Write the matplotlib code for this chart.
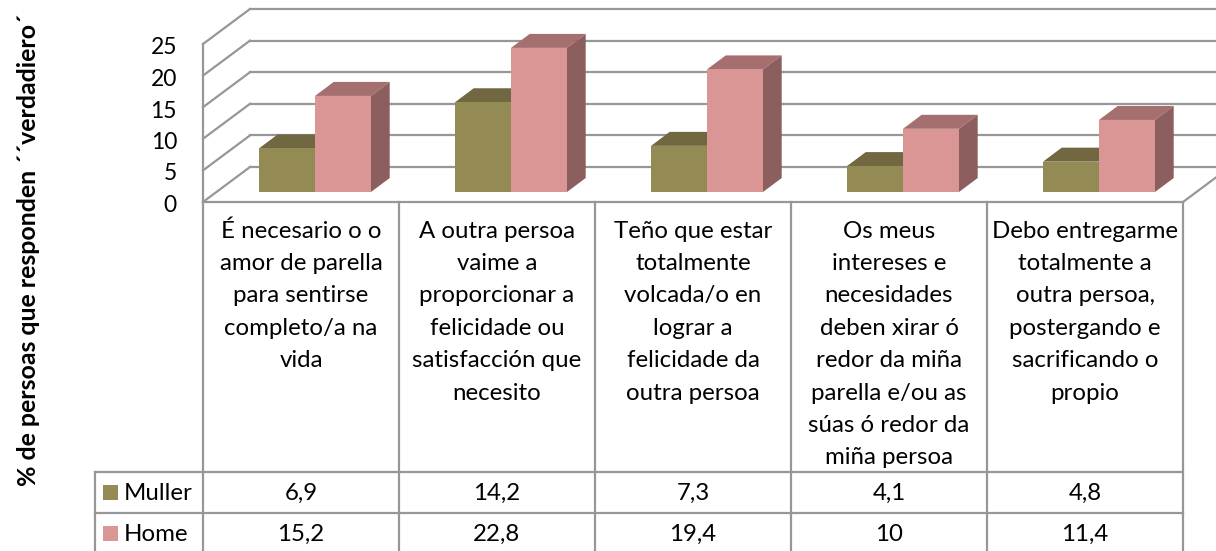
import numpy as np
import matplotlib
matplotlib.use('Agg')
import matplotlib.pyplot as plt
from matplotlib.patches import Polygon, Rectangle

plt.rcParams['font.family'] = ['Lato', 'DejaVu Sans']

# datos
series = ['Muller', 'Home']
muller = [6.9, 14.2, 7.3, 4.1, 4.8]
home = [15.2, 22.8, 19.4, 10, 11.4]
muller_txt = ['6,9', '14,2', '7,3', '4,1', '4,8']
home_txt = ['15,2', '22,8', '19,4', '10', '11,4']
yticks = [0, 5, 10, 15, 20, 25]
ylabel = '% de persoas que responden ´´verdadiero´'
categories = [
    ['É necesario o o', 'amor de parella', 'para sentirse', 'completo/a na', 'vida'],
    ['A outra persoa', 'vaime a', 'proporcionar a', 'felicidade ou', 'satisfacción que', 'necesito'],
    ['Teño que estar', 'totalmente', 'volcada/o en', 'lograr a', 'felicidade da', 'outra persoa'],
    ['Os meus', 'intereses e', 'necesidades', 'deben xirar ó', 'redor da miña', 'parella e/ou as', 'súas ó redor da', 'miña persoa'],
    ['Debo entregarme', 'totalmente a', 'outra persoa,', 'postergando e', 'sacrificando o', 'propio'],
]

W, H = 1216, 551
grid_col = '#979797'
olive = ('#948A54', '#716842', '#655C3B')
pink = ('#D99694', '#A66F6F', '#8C5E5E')
fs = 17.3

fig = plt.figure(figsize=(W / 100, H / 100), dpi=100)

# capa en pixeles para tabla y textos
lay = fig.add_axes([0, 0, 1, 1])
lay.set_xlim(0, W)
lay.set_ylim(H, 0)
lay.axis('off')

# ejes del grafico: x en categorias, y en valores
ax = fig.add_axes([203 / W, (H - 202) / H, 980 / W, 158 / H])
ax.set_xlim(0, 5)
ax.set_ylim(0, 25)
ax.axis('off')
ax.patch.set_alpha(0)

wall_dx, wall_dy = 47 / 196, 35 / 6.32
bar_dx, bar_dy = 18.7 / 196, 14 / 6.32
base_dy = 10 / 6.32
bar_w = 56 / 196
lw = 1.6

# paredes y lineas de division
for v in yticks:
    ax.plot([0, wall_dx], [v, v + wall_dy], color=grid_col, lw=lw, clip_on=False)
    ax.plot([wall_dx, 5.3], [v + wall_dy, v + wall_dy], color=grid_col, lw=lw, clip_on=False)
ax.plot([0, 0], [0, 25], color=grid_col, lw=lw, clip_on=False)
ax.plot([5, 5 + wall_dx], [0, wall_dy], color=grid_col, lw=lw, clip_on=False)


def bar3d(x0, val, cols):
    y0, y1 = base_dy, base_dy + val
    x1 = x0 + bar_w
    ax.add_patch(Polygon([(x0, y1), (x1, y1), (x1 + bar_dx, y1 + bar_dy), (x0 + bar_dx, y1 + bar_dy)],
                         fc=cols[1], ec='none', clip_on=False, zorder=3))
    ax.add_patch(Polygon([(x1, y0), (x1 + bar_dx, y0 + bar_dy), (x1 + bar_dx, y1 + bar_dy), (x1, y1)],
                         fc=cols[2], ec='none', clip_on=False, zorder=3))
    ax.bar(x0, val, bar_w, bottom=y0, align='edge', color=cols[0], clip_on=False, zorder=3)


for i in range(5):
    bar3d(i + bar_w, muller[i], olive)
    bar3d(i + 2 * bar_w, home[i], pink)

# etiquetas eje y
for v in yticks:
    ax.annotate(str(v), (0, v), xytext=(177, 212 - v * 6.3), xycoords='data', textcoords=lay.transData,
                ha='right', va='baseline', fontsize=16.5, color='black', annotation_clip=False)

lay.text(29, 250, ylabel, rotation=90, ha='center', va='center', fontsize=17.9, fontweight='bold')

# tabla
xs = [203 + 196 * i for i in range(6)]
for x in xs:
    lay.plot([x, x], [202, H], color=grid_col, lw=lw)
lay.plot([203, 1183], [202, 202], color=grid_col, lw=lw)
lay.plot([95, 1183], [472, 472], color=grid_col, lw=lw)
lay.plot([95, 1183], [513, 513], color=grid_col, lw=lw)
lay.plot([95, 95], [472, H], color=grid_col, lw=lw)

for i, lines in enumerate(categories):
    cx = xs[i] + 98
    for j, line in enumerate(lines):
        lay.text(cx, 237.5 + j * 32.4, line, ha='center', va='baseline', fontsize=fs)
    lay.text(cx, 500, muller_txt[i], ha='center', va='baseline', fontsize=fs)
    lay.text(cx, 541, home_txt[i], ha='center', va='baseline', fontsize=fs)

for name, yy, col in zip(series, [492, 533], [olive[0], pink[0]]):
    lay.add_patch(Rectangle((103, yy - 7.5), 15, 15, fc=col, ec='none'))
    lay.text(124, yy + 8, name, ha='left', va='baseline', fontsize=fs)

fig.savefig('out.png', dpi=100)
